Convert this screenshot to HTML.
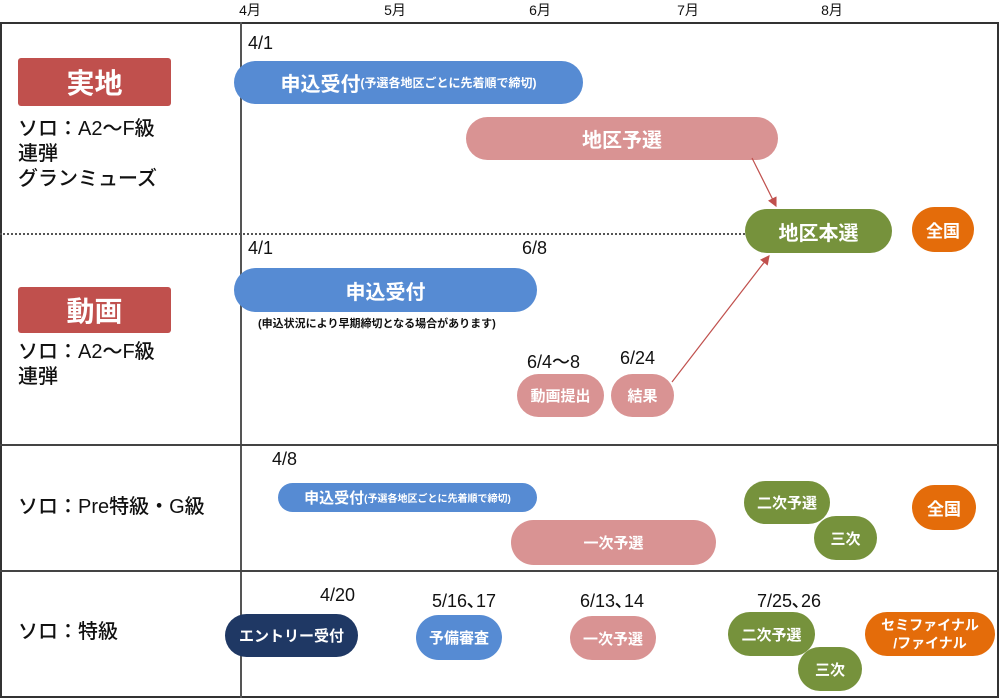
<!DOCTYPE html>
<html><head><meta charset="utf-8"><style>
body{margin:0;width:1000px;height:700px;background:#fff;position:relative;overflow:hidden;font-family:"Liberation Sans","Noto Sans CJK JP",sans-serif;color:#111}
div{position:absolute;box-sizing:border-box}
.p{border-radius:24px;color:#fff;font-weight:bold;display:flex;align-items:center;justify-content:center;text-align:center;white-space:nowrap}
.b{background:#568bd3}.k{background:#d99393}.g{background:#76923c}.o{background:#e46c0a}
.t{font-size:18px;font-weight:500;white-space:nowrap}
.l{font-size:20px;font-weight:500;line-height:25px;white-space:nowrap}
.m{top:0;font-size:14px;transform:translateX(-50%)}
</style></head><body>
<div class="m" style="left:250px">4月</div>
<div class="m" style="left:395px">5月</div>
<div class="m" style="left:540px">6月</div>
<div class="m" style="left:688px">7月</div>
<div class="m" style="left:832px">8月</div>
<div style="left:0;top:22px;width:999px;height:676px;border:2px solid #333"></div>
<div style="left:240px;top:22px;width:2px;height:676px;background:#555"></div>
<div style="left:0;top:233px;width:745px;border-top:2px dotted #555"></div>
<div style="left:0;top:444px;width:999px;height:2px;background:#444"></div>
<div style="left:0;top:570px;width:999px;height:2px;background:#444"></div>

<div class="p" style="left:18px;top:58px;width:153px;height:48px;border-radius:3px;background:#c0504d;font-size:28px">実地</div>
<div class="l" style="left:18px;top:117px">ソロ：A2〜F級<br>連弾<br>グランミューズ</div>
<div class="p" style="left:18px;top:287px;width:153px;height:46px;border-radius:3px;background:#c0504d;font-size:28px">動画</div>
<div class="l" style="left:18px;top:340px">ソロ：A2〜F級<br>連弾</div>
<div class="l" style="left:18px;top:495px">ソロ：Pre特級・G級</div>
<div class="l" style="left:18px;top:620px">ソロ：特級</div>

<div class="t" style="left:248px;top:33px">4/1</div>
<div class="p b" style="left:234px;top:61px;width:349px;height:43px;font-size:20px">申込受付<span style="font-size:12px">(予選各地区ごとに先着順で締切)</span></div>
<div class="p k" style="left:466px;top:117px;width:312px;height:43px;font-size:20px">地区予選</div>
<div class="p g" style="left:745px;top:209px;width:147px;height:44px;font-size:20px">地区本選</div>
<div class="p o" style="left:912px;top:207px;width:62px;height:45px;font-size:17px">全国</div>

<div class="t" style="left:248px;top:238px">4/1</div>
<div class="t" style="left:522px;top:238px">6/8</div>
<div class="p b" style="left:234px;top:268px;width:303px;height:44px;font-size:20px">申込受付</div>
<div style="left:258px;top:315px;font-size:11px;font-weight:bold;white-space:nowrap">(申込状況により早期締切となる場合があります)</div>
<div class="t" style="left:527px;top:348px">6/4〜8</div>
<div class="t" style="left:620px;top:348px">6/24</div>
<div class="p k" style="left:517px;top:374px;width:87px;height:43px;font-size:15px">動画提出</div>
<div class="p k" style="left:611px;top:374px;width:63px;height:43px;font-size:15px">結果</div>

<div class="t" style="left:272px;top:449px">4/8</div>
<div class="p b" style="left:278px;top:483px;width:259px;height:29px;font-size:15px">申込受付<span style="font-size:10px">(予選各地区ごとに先着順で締切)</span></div>
<div class="p k" style="left:511px;top:520px;width:205px;height:45px;font-size:15px">一次予選</div>
<div class="p g" style="left:744px;top:481px;width:86px;height:43px;font-size:15px">二次予選</div>
<div class="p g" style="left:814px;top:516px;width:63px;height:44px;font-size:15px">三次</div>
<div class="p o" style="left:912px;top:485px;width:64px;height:45px;font-size:17px">全国</div>

<div class="t" style="left:320px;top:585px">4/20</div>
<div class="t" style="left:432px;top:587px">5/16､17</div>
<div class="t" style="left:580px;top:587px">6/13､14</div>
<div class="t" style="left:757px;top:587px">7/25､26</div>
<div class="p" style="left:225px;top:614px;width:133px;height:43px;background:#1f3864;font-size:15px">エントリー受付</div>
<div class="p b" style="left:416px;top:615px;width:86px;height:45px;font-size:15px">予備審査</div>
<div class="p k" style="left:570px;top:616px;width:86px;height:44px;font-size:15px">一次予選</div>
<div class="p g" style="left:728px;top:612px;width:87px;height:44px;font-size:15px">二次予選</div>
<div class="p g" style="left:798px;top:647px;width:64px;height:44px;font-size:15px">三次</div>
<div class="p o" style="left:865px;top:612px;width:130px;height:44px;font-size:14px;line-height:18px;white-space:normal">セミファイナル<br>/ファイナル</div>

<svg style="position:absolute;left:0;top:0" width="1000" height="700">
<defs><marker id="a" markerWidth="8" markerHeight="8" refX="7" refY="4" orient="auto"><path d="M0,0 L8,4 L0,8 z" fill="#c0504d"/></marker></defs>
<line x1="752" y1="158" x2="776" y2="206" stroke="#c0504d" stroke-width="1.2" marker-end="url(#a)"/>
<line x1="672" y1="382" x2="769" y2="256" stroke="#c0504d" stroke-width="1.2" marker-end="url(#a)"/>
</svg>
</body></html>
